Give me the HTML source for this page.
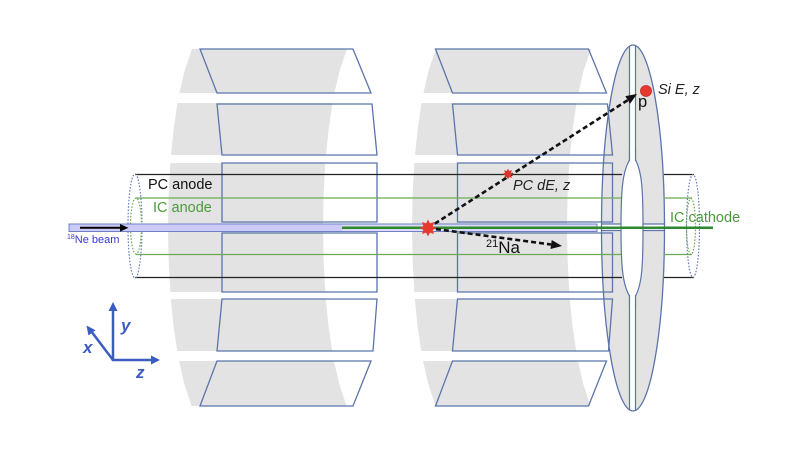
<!DOCTYPE html>
<html><head><meta charset="utf-8"><style>
html,body{margin:0;padding:0;background:#fff;}
body{width:800px;height:450px;overflow:hidden;position:relative;}
svg{position:absolute;left:0;top:0;}
text{font-family:"Liberation Sans",Arial,sans-serif;}
</style></head><body>
<svg width="800" height="450" viewBox="0 0 800 450" xmlns="http://www.w3.org/2000/svg">
<defs>
<clipPath id="disk"><ellipse cx="633" cy="228" rx="31.5" ry="183"/></clipPath>
<g id="gray">
<polygon points="192,49 347,49 339.5,71 334.4,93 179.4,93 184.5,71"/>
<polygon points="177.5,103 332.5,103 328.7,129 326,155 171,155 173.7,129"/>
<polygon points="170.3,163 325.3,163 323.6,195 323,228 323.6,260 325.3,292 170.3,292 168.6,260 168,228 168.6,195"/>
<polygon points="170.8,299 325.8,299 328.4,325 332.2,351 177.2,351 173.4,325"/>
<polygon points="179,361 334,361 339.1,383.5 346.6,406 191.6,406 184.1,383.5"/>
</g>
<g id="pads">
<polygon points="200,49 353,49 371,93 217,93"/>
<polygon points="217,104 372,104 377,155 222,155"/>
<polygon points="222,163 377,163 377,222 222,222"/>
<polygon points="222,233 377,233 377,292 222,292"/>
<polygon points="222,299 377,299 373,351 217,351"/>
<polygon points="217,361 371,361 353,406 200,406"/>
</g>
<polygon id="star" points="8.5,0 4.62,1.91 6.01,6.01 1.91,4.62 0,8.5 -1.91,4.62 -6.01,6.01 -4.62,1.91 -8.5,0 -4.62,-1.91 -6.01,-6.01 -1.91,-4.62 0,-8.5 1.91,-4.62 6.01,-6.01 4.62,-1.91"/>
</defs>

<!-- gray barrel backgrounds -->
<g fill="#e3e3e3">
<use href="#gray"/>
<use href="#gray" transform="translate(244,0)"/>
</g>

<!-- Si disk -->
<ellipse cx="633" cy="228" rx="31.5" ry="183" fill="#e3e3e3"/>
<g clip-path="url(#disk)">
<rect x="629.5" y="40" width="6" height="380" fill="#fff"/>
<line x1="629.5" y1="40" x2="629.5" y2="420" stroke="#5b74aa" stroke-width="1.2"/>
<line x1="635.5" y1="40" x2="635.5" y2="420" stroke="#5b74aa" stroke-width="1.2"/>
<rect x="598" y="224" width="70" height="6.5" fill="#fff"/>
<line x1="598" y1="224" x2="668" y2="224" stroke="#5b74aa" stroke-width="1.2"/>
<line x1="598" y1="230.5" x2="668" y2="230.5" stroke="#5b74aa" stroke-width="1.2"/>
</g>
<path d="M629.5,160 C622.5,172 621,190 621,228 C621,266 622.5,284 629.5,296 L635.5,296 C642,284 643,266 643,228 C643,190 642,172 635.5,160 Z" fill="#fff" stroke="#5b74aa" stroke-width="1.2"/>
<rect x="629.8" y="150" width="5.4" height="20" fill="#fff"/>
<rect x="629.8" y="286" width="5.4" height="20" fill="#fff"/>
<line x1="629.5" y1="150" x2="629.5" y2="161" stroke="#5b74aa" stroke-width="1.2"/>
<line x1="635.5" y1="150" x2="635.5" y2="161" stroke="#5b74aa" stroke-width="1.2"/>
<line x1="629.5" y1="295" x2="629.5" y2="306" stroke="#5b74aa" stroke-width="1.2"/>
<line x1="635.5" y1="295" x2="635.5" y2="306" stroke="#5b74aa" stroke-width="1.2"/>
<ellipse cx="633" cy="228" rx="31.5" ry="183" fill="none" stroke="#5b74aa" stroke-width="1.3"/>

<!-- pads -->
<g fill="none" stroke="#5b74aa" stroke-width="1.3">
<use href="#pads"/>
<use href="#pads" transform="translate(235.5,0)"/>
</g>

<!-- cylinder lines -->
<g stroke="#222" stroke-width="1.2">
<line x1="135" y1="174.5" x2="622" y2="174.5"/>
<line x1="135" y1="277.5" x2="622" y2="277.5"/>
<line x1="664" y1="174.5" x2="694" y2="174.5"/>
<line x1="664" y1="277.5" x2="694" y2="277.5"/>
</g>
<g stroke="#6aaa55" stroke-width="1.3">
<line x1="136" y1="198" x2="621" y2="198"/>
<line x1="136" y1="254.5" x2="621" y2="254.5"/>
<line x1="664" y1="198" x2="692" y2="198"/>
<line x1="664" y1="254.5" x2="692" y2="254.5"/>
</g>
<!-- dotted ends -->
<g fill="none" stroke-width="1.2" stroke-dasharray="1.6 1.6">
<ellipse cx="135" cy="226" rx="7" ry="52" stroke="#6a7fc0"/>
<ellipse cx="136" cy="226" rx="5.5" ry="28" stroke="#6aaa55"/>
<ellipse cx="693" cy="226" rx="6.5" ry="51.5" stroke="#6a7fc0"/>
<ellipse cx="691" cy="226.5" rx="4.5" ry="28" stroke="#6aaa55"/>
</g>

<!-- beam tube -->
<rect x="69" y="224" width="528" height="7.5" fill="#cbcbf6" stroke="#6f7fc6" stroke-width="1"/>
<rect x="342" y="224.5" width="254.5" height="6.5" fill="#d9dcf2"/>
<line x1="342" y1="227.8" x2="713" y2="227.8" stroke="#2f8a2f" stroke-width="2.5"/>
<!-- beam arrow -->
<line x1="80" y1="227.8" x2="121" y2="227.8" stroke="#000" stroke-width="2"/>
<polygon points="128.5,227.8 120,224 120,231.6" fill="#000"/>

<!-- dashed tracks -->
<g stroke="#111" stroke-width="2.6" stroke-dasharray="5 3" fill="none">
<line x1="428" y1="228" x2="628" y2="100"/>
<line x1="428" y1="228" x2="551" y2="244.5"/>
</g>
<polygon points="637,94 630.1,103.7 625.3,96.1" fill="#111"/>
<polygon points="562,246 550.5,249 551.7,240" fill="#111"/>

<!-- stars and dot -->
<use href="#star" transform="translate(428,228)" fill="#e5382e"/>
<use href="#star" transform="translate(508,174) scale(0.65)" fill="#d8352c"/>
<circle cx="646" cy="91" r="5.5" fill="#e5382e" stroke="#c42a22" stroke-width="0.8"/>

<!-- labels -->
<text x="148" y="189" font-size="14.5" fill="#111">PC anode</text>
<text x="153" y="212" font-size="14.5" fill="#4c9a3c">IC anode</text>
<text x="67" y="243" font-size="11" fill="#3838d0"><tspan font-size="7" dy="-4">18</tspan><tspan dy="4">Ne beam</tspan></text>
<text x="513" y="190" font-size="14.5" font-style="italic" fill="#222">PC dE, z</text>
<text x="486" y="253" font-size="17" fill="#111"><tspan font-size="11" dy="-6">21</tspan><tspan dy="6">Na</tspan></text>
<text x="670" y="222" font-size="14.5" fill="#4c9a3c">IC cathode</text>
<text x="658" y="94" font-size="14.5" font-style="italic" fill="#222">Si E, z</text>
<text x="638" y="107" font-size="16.5" fill="#111">p</text>

<!-- axes -->
<g stroke="#3b5cc0" stroke-width="2.5" fill="none">
<line x1="113" y1="361" x2="113" y2="309"/>
<line x1="112" y1="360" x2="152" y2="360"/>
<line x1="113" y1="360" x2="91" y2="331"/>
</g>
<g fill="#3b5cc0">
<polygon points="113,302 108.5,311 117.5,311"/>
<polygon points="160,360 151,355.5 151,364.5"/>
<polygon points="86.5,325.5 95.5,330.2 88.4,335.4"/>
</g>
<g fill="#3b5cc0" font-size="17" font-weight="bold" font-style="italic">
<text x="121" y="331">y</text>
<text x="83" y="353">x</text>
<text x="136" y="378">z</text>
</g>
</svg>
</body></html>
